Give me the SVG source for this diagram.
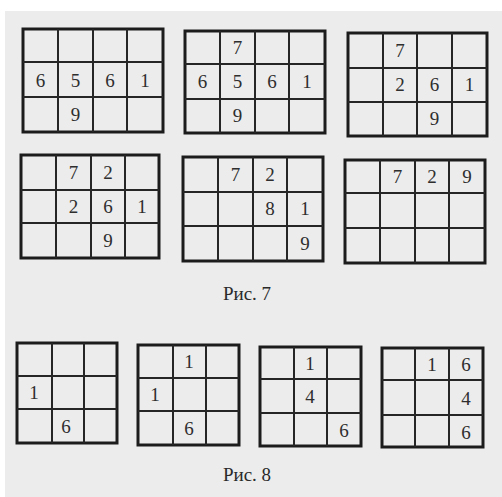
<svg xmlns="http://www.w3.org/2000/svg" width="502" height="497" viewBox="0 0 502 497">
<style>
.o{fill:none;stroke:#1c1c1c;stroke-width:3}
.i{stroke:#262626;stroke-width:2}
.d{font-family:"Liberation Serif","Times New Roman",serif;font-size:19px;fill:#2e2e2e;text-anchor:middle}
.c{font-family:"Liberation Serif","Times New Roman",serif;font-size:19px;fill:#2a2a2a;text-anchor:middle}
</style>
<rect width="502" height="497" fill="#fff"/>
<rect x="5" y="11" width="497" height="486" fill="#ececec"/>
<g id="g1">
<rect class="o" x="23" y="29" width="140" height="103"/>
<line class="i" x1="58" y1="29" x2="58" y2="132"/><line class="i" x1="93" y1="29" x2="93" y2="132"/><line class="i" x1="127" y1="29" x2="127" y2="132"/>
<line class="i" x1="23" y1="62" x2="163" y2="62"/><line class="i" x1="23" y1="97" x2="163" y2="97"/>
<text class="d" x="40.5" y="87">6</text><text class="d" x="75.5" y="87">5</text><text class="d" x="110" y="87">6</text><text class="d" x="145" y="87">1</text>
<text class="d" x="75.5" y="121">9</text>
</g>
<g id="g2">
<rect class="o" x="185" y="31" width="140" height="102"/>
<line class="i" x1="220" y1="31" x2="220" y2="133"/><line class="i" x1="255" y1="31" x2="255" y2="133"/><line class="i" x1="289" y1="31" x2="289" y2="133"/>
<line class="i" x1="185" y1="64" x2="325" y2="64"/><line class="i" x1="185" y1="99" x2="325" y2="99"/>
<text class="d" x="237.5" y="54">7</text>
<text class="d" x="202.5" y="88">6</text><text class="d" x="237.5" y="88">5</text><text class="d" x="272" y="88">6</text><text class="d" x="307" y="88">1</text>
<text class="d" x="237.5" y="122">9</text>
</g>
<g id="g3">
<rect class="o" x="348" y="33" width="139" height="103"/>
<line class="i" x1="383" y1="33" x2="383" y2="136"/><line class="i" x1="417" y1="33" x2="417" y2="136"/><line class="i" x1="452" y1="33" x2="452" y2="136"/>
<line class="i" x1="348" y1="68" x2="487" y2="68"/><line class="i" x1="348" y1="102" x2="487" y2="102"/>
<text class="d" x="400" y="57">7</text>
<text class="d" x="400" y="91">2</text><text class="d" x="434.5" y="91">6</text><text class="d" x="469.5" y="91">1</text>
<text class="d" x="434.5" y="125">9</text>
</g>
<g id="g4">
<rect class="o" x="21" y="155" width="138" height="103"/>
<line class="i" x1="56" y1="155" x2="56" y2="258"/><line class="i" x1="91" y1="155" x2="91" y2="258"/><line class="i" x1="125" y1="155" x2="125" y2="258"/>
<line class="i" x1="21" y1="190" x2="159" y2="190"/><line class="i" x1="21" y1="223" x2="159" y2="223"/>
<text class="d" x="73.5" y="179">7</text><text class="d" x="108" y="179">2</text>
<text class="d" x="73.5" y="213">2</text><text class="d" x="108" y="213">6</text><text class="d" x="142" y="213">1</text>
<text class="d" x="108" y="247">9</text>
</g>
<g id="g5">
<rect class="o" x="183" y="157" width="140" height="104"/>
<line class="i" x1="218" y1="157" x2="218" y2="261"/><line class="i" x1="253" y1="157" x2="253" y2="261"/><line class="i" x1="287" y1="157" x2="287" y2="261"/>
<line class="i" x1="183" y1="192" x2="323" y2="192"/><line class="i" x1="183" y1="226" x2="323" y2="226"/>
<text class="d" x="235.5" y="181">7</text><text class="d" x="270" y="181">2</text>
<text class="d" x="270" y="215">8</text><text class="d" x="305" y="215">1</text>
<text class="d" x="305" y="250">9</text>
</g>
<g id="g6">
<rect class="o" x="345" y="160" width="140" height="103"/>
<line class="i" x1="380" y1="160" x2="380" y2="263"/><line class="i" x1="415" y1="160" x2="415" y2="263"/><line class="i" x1="449" y1="160" x2="449" y2="263"/>
<line class="i" x1="345" y1="193" x2="485" y2="193"/><line class="i" x1="345" y1="228" x2="485" y2="228"/>
<text class="d" x="397.5" y="183">7</text><text class="d" x="432" y="183">2</text><text class="d" x="467" y="183">9</text>
</g>
<text class="c" x="247" y="300">Рис. 7</text>
<g id="g7">
<rect class="o" x="17" y="343" width="100" height="100"/>
<line class="i" x1="52" y1="343" x2="52" y2="443"/><line class="i" x1="84" y1="343" x2="84" y2="443"/>
<line class="i" x1="17" y1="376" x2="117" y2="376"/><line class="i" x1="17" y1="409" x2="117" y2="409"/>
<text class="d" x="34" y="399">1</text>
<text class="d" x="66" y="433">6</text>
</g>
<g id="g8">
<rect class="o" x="138" y="345" width="101" height="100"/>
<line class="i" x1="173" y1="345" x2="173" y2="445"/><line class="i" x1="206" y1="345" x2="206" y2="445"/>
<line class="i" x1="138" y1="378" x2="239" y2="378"/><line class="i" x1="138" y1="411" x2="239" y2="411"/>
<text class="d" x="189" y="368">1</text>
<text class="d" x="155" y="401">1</text>
<text class="d" x="189" y="435">6</text>
</g>
<g id="g9">
<rect class="o" x="260" y="347" width="101" height="99"/>
<line class="i" x1="294" y1="347" x2="294" y2="446"/><line class="i" x1="327" y1="347" x2="327" y2="446"/>
<line class="i" x1="260" y1="379" x2="361" y2="379"/><line class="i" x1="260" y1="413" x2="361" y2="413"/>
<text class="d" x="310" y="370">1</text>
<text class="d" x="310" y="403">4</text>
<text class="d" x="344" y="437">6</text>
</g>
<g id="g10">
<rect class="o" x="382" y="348" width="101" height="99"/>
<line class="i" x1="415" y1="348" x2="415" y2="447"/><line class="i" x1="449" y1="348" x2="449" y2="447"/>
<line class="i" x1="382" y1="380" x2="483" y2="380"/><line class="i" x1="382" y1="415" x2="483" y2="415"/>
<text class="d" x="432" y="371">1</text><text class="d" x="466" y="371">6</text>
<text class="d" x="466" y="405">4</text>
<text class="d" x="466" y="439">6</text>
</g>
<text class="c" x="247" y="481">Рис. 8</text>
</svg>
